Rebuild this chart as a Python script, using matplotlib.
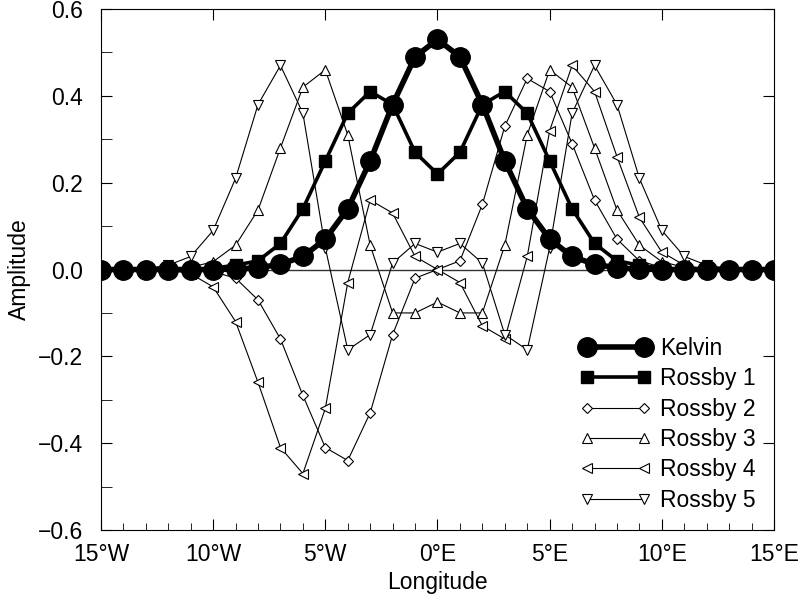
import numpy as np
import matplotlib
matplotlib.use("Agg")
import matplotlib.pyplot as plt
from matplotlib.ticker import MultipleLocator, FuncFormatter

plt.rcParams['font.family'] = ['Liberation Sans', 'DejaVu Sans']

lon = np.arange(-15, 16)

# half profiles from 0 to 15 (symmetric / antisymmetric about 0)
kelvin_half = [0.53, 0.49, 0.38, 0.25, 0.14, 0.07, 0.03, 0.012, 0.004, 0.001, 0, 0, 0, 0, 0, 0]
rossby1_half = [0.22, 0.27, 0.38, 0.41, 0.36, 0.25, 0.14, 0.06, 0.02, 0.01, 0.003, 0, 0, 0, 0, 0]
rossby2_half = [0.0, 0.02, 0.15, 0.33, 0.44, 0.41, 0.29, 0.16, 0.07, 0.02, 0.005, 0, 0, 0, 0, 0]
rossby3_half = [-0.075, -0.10, -0.10, 0.056, 0.31, 0.46, 0.42, 0.28, 0.137, 0.056, 0.018, 0.005, 0, 0, 0, 0]
rossby4_half = [0.0, -0.03, -0.13, -0.16, 0.03, 0.32, 0.47, 0.41, 0.26, 0.12, 0.04, 0.01, 0, 0, 0, 0]
rossby5_half = [0.04, 0.06, 0.015, -0.15, -0.185, 0.05, 0.36, 0.47, 0.38, 0.21, 0.09, 0.03, 0.01, 0.002, 0, 0]


def sym(h):
    h = np.array(h)
    return np.concatenate([h[:0:-1], h])


def asym(h):
    h = np.array(h)
    return np.concatenate([-h[:0:-1], h])


kelvin = sym(kelvin_half)
rossby1 = sym(rossby1_half)
rossby2 = asym(rossby2_half)
rossby3 = sym(rossby3_half)
rossby4 = asym(rossby4_half)
rossby5 = sym(rossby5_half)

FS = 16.5

fig = plt.figure(figsize=(8.04, 6.02), dpi=100)
ax = fig.add_axes([0.1256, 0.1196, 0.8371, 0.8654])

ax.axhline(0, color='#333333', lw=1.0, zorder=1)

ax.plot(lon, kelvin, 'k-', lw=4, marker='o', ms=14, label='Kelvin', zorder=5)
ax.plot(lon, rossby1, 'k-', lw=2.6, marker='s', ms=8, label='Rossby 1', zorder=4)
open_kw = dict(color='k', lw=0.8, mfc='white', mec='k', mew=0.8, zorder=3)
ax.plot(lon, rossby2, marker='D', ms=5.5, label='Rossby 2', **open_kw)
ax.plot(lon, rossby3, marker='^', ms=7.5, label='Rossby 3', **open_kw)
ax.plot(lon, rossby4, marker='<', ms=7.5, label='Rossby 4', **open_kw)
ax.plot(lon, rossby5, marker='v', ms=7.5, label='Rossby 5', **open_kw)

ax.set_xlim(-15, 15)
ax.set_ylim(-0.6, 0.6)
ax.xaxis.set_major_locator(MultipleLocator(5))
ax.xaxis.set_minor_locator(MultipleLocator(1))
ax.yaxis.set_major_locator(MultipleLocator(0.2))
ax.yaxis.set_minor_locator(MultipleLocator(0.1))


def lon_fmt(v, pos):
    v = int(round(v))
    return f"{-v}°W" if v < 0 else f"{v}°E"


ax.xaxis.set_major_formatter(FuncFormatter(lon_fmt))
ax.yaxis.set_major_formatter(FuncFormatter(lambda v, p: f"{v:.1f}".replace('-', '\u2212')))

ax.tick_params(which='major', direction='in', top=True, right=True, length=8,
               labelsize=FS)
ax.tick_params(axis='x', which='major', pad=9)
ax.tick_params(axis='y', which='major', pad=13)
ax.tick_params(axis='x', which='minor', direction='in', top=False, length=5)
ax.tick_params(axis='y', which='minor', direction='in', right=False, length=8)

ax.set_xlabel('Longitude', fontsize=FS, labelpad=4)
ax.set_ylabel('Amplitude', fontsize=FS, labelpad=5)

ax.legend(loc='lower right', frameon=False, fontsize=FS, numpoints=2,
          handlelength=3.1, labelspacing=0.32, borderaxespad=0.4, handletextpad=0.4)

fig.savefig('out.png', dpi=100)
